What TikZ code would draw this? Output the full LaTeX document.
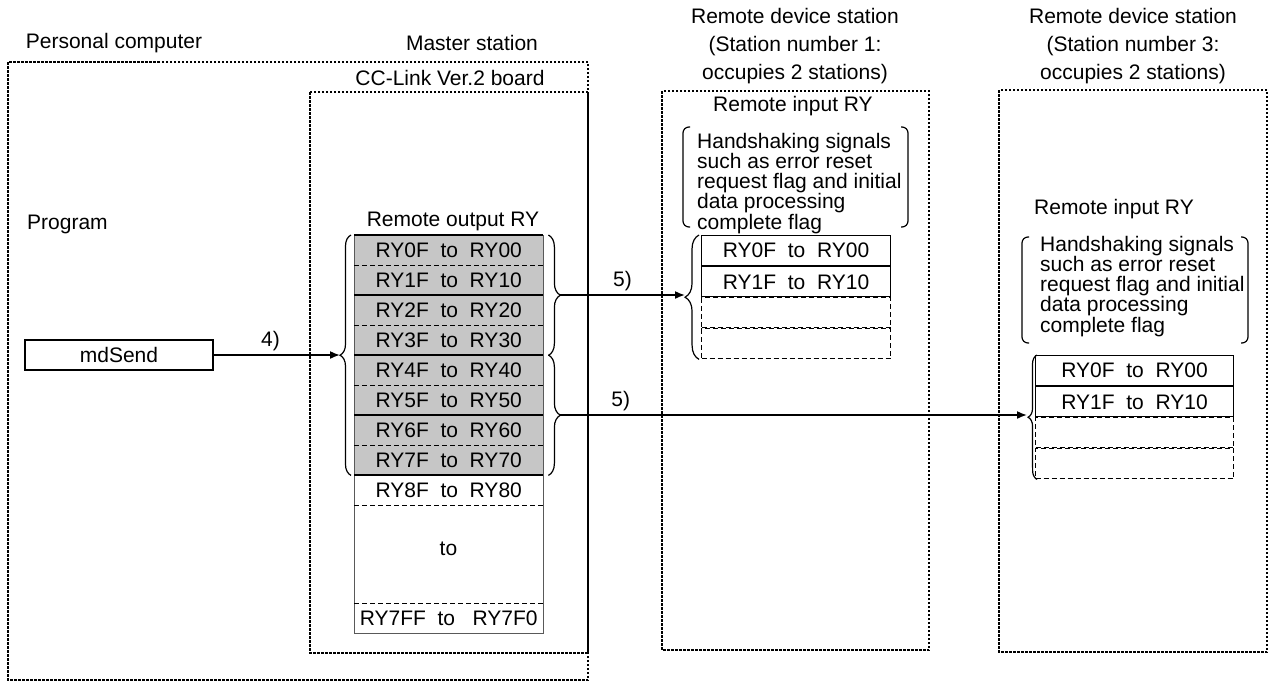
\documentclass[tikz,border=0pt]{standalone}
\usepackage{fontspec}
\setmainfont{Liberation Sans}
\usetikzlibrary{positioning,decorations.pathreplacing,arrows.meta}

\begin{document}
\begin{tikzpicture}[
    x=1pt, y=-1pt,
    >={Latex[length=10pt,width=8pt]},
    font=\fontsize{21}{19.3}\selectfont,
    frame/.style={draw, line width=2pt, dash pattern=on 2.5pt off 1.5pt},
    title/.style={align=center, anchor=north, inner sep=0pt, font=\fontsize{21}{28}\selectfont},
    cell/.style={minimum width=189pt, minimum height=30pt, inner sep=0pt, anchor=north west},
    stcell/.style={cell, draw, line width=1.2pt},
    emptycell/.style={cell, draw, line width=1pt, dash pattern=on 5pt off 3pt},
    rowline/.style={line width=1.8pt},
    rowdash/.style={line width=1pt, dash pattern=on 5pt off 3pt},
    tableside/.style={line width=1pt, black!65},
    brc/.style={decorate, decoration={brace, amplitude=#1}, line width=1.2pt},
    paren/.style={rounded corners=6pt, line width=1.2pt},
    hstext/.style={align=left, anchor=north west, inner sep=0pt},
    flow/.style={->, line width=1.6pt}
    ]

    \useasboundingbox (0,0) rectangle (1270,683);

    \draw[frame] (8,62) rectangle (588,680);
    \draw[frame] (310,92) rectangle (588,653);
    \draw[frame] (662,91) rectangle (929,650);
    \draw[frame] (999,90) rectangle (1267,652);

    \node (pc) at (114,43) {Personal computer};
    \node (master) at (472,43) {Master station};
    \node (board) at (450,78) {CC-Link Ver.2 board};
    \node[title] (st1) at (795,8) {Remote device station\\(Station number 1:\\occupies 2 stations)};
    \node[title] (st3) at (1133,8) {Remote device station\\(Station number 3:\\occupies 2 stations)};

    \node[anchor=west, inner sep=0pt] (prog) at (27,224) {Program};
    \node[draw, line width=1.2pt, minimum width=188pt, minimum height=30pt, inner sep=0pt] (send) at (119,355) {mdSend};

    \node (mout) at (453,221) {Remote output RY};
    \foreach \i in {0,...,7}
        \node[cell, fill=gray!45] (m\i) at (354,235+30*\i) {RY\i F\ \ to\ \ RY\i 0};
    \node[cell] (m8) at (354,475) {RY8F\ \ to\ \ RY80};
    \node[cell, minimum height=98pt] (mto) at (354,505) {};
    \node (to) at (448.5,549) {to};
    \node[cell] (mend) at (354,603) {RY7FF\ \ to\ \ \ RY7F0};

    \draw[tableside] (m0.north west) -- (mend.south west) -- (mend.south east) -- (m0.north east);
    \foreach \i in {0,2,4,6,8} {
        \draw[rowline] (m\i.north west) -- (m\i.north east);
        \draw[rowdash] (m\i.south west) -- (m\i.south east);
    }
    \draw[rowdash] (mend.north west) -- (mend.north east);

    \draw[brc=11pt] ([xshift=-3pt]m7.south west) -- ([xshift=-3pt]m0.north west);
    \draw[brc=12pt] ([xshift=5pt]m0.north east) -- ([xshift=5pt]m3.south east);
    \draw[brc=12pt] ([xshift=5pt]m4.north east) -- ([xshift=5pt]m7.south east);
    \coordinate (min) at (340,355);
    \coordinate (moutA) at (560,295);
    \coordinate (moutB) at (560,415);

    \node (in1) at (793,106) {Remote input RY};
    \node[hstext] (hs1) at (697,133) {Handshaking signals\\such as error reset\\request flag and initial\\data processing\\complete flag};
    \draw[paren] (690,127) -- (683,127) -- (683,227) -- (690,227);
    \draw[paren] (901,127) -- (908,127) -- (908,227) -- (901,227);
    \node[stcell] (s1a) at (701,235) {RY0F\ \ to\ \ RY00};
    \node[stcell, below=0pt of s1a] (s1b) {RY1F\ \ to\ \ RY10};
    \node[emptycell, below=0pt of s1b] (s1c) {};
    \node[emptycell, below=0pt of s1c] (s1d) {};
    \draw[brc=14pt] ([xshift=-2pt]s1d.south west) -- ([xshift=-2pt]s1a.north west);
    \coordinate (s1in) at (685,295);

    \node (in3) at (1114,209) {Remote input RY};
    \node[hstext] (hs3) at (1040,236) {Handshaking signals\\such as error reset\\request flag and initial\\data processing\\complete flag};
    \draw[paren] (1029,237) -- (1022,237) -- (1022,343) -- (1029,343);
    \draw[paren] (1241,237) -- (1248,237) -- (1248,343) -- (1241,343);
    \node[stcell, minimum width=198pt] (s3a) at (1035,355) {RY0F\ \ to\ \ RY00};
    \node[stcell, minimum width=198pt, below=0pt of s3a] (s3b) {RY1F\ \ to\ \ RY10};
    \node[emptycell, minimum width=198pt, below=0pt of s3b] (s3c) {};
    \node[emptycell, minimum width=198pt, below=0pt of s3c] (s3d) {};
    \draw[brc=9pt] ([xshift=2pt]s3d.south west) -- ([xshift=2pt]s3a.north west);
    \coordinate (s3in) at (1027,415);

    \draw[flow] (send.east) -- node[above, pos=0.45] {4)} (min);
    \draw[flow] (moutA) -- node[above] {5)} (s1in);
    \draw[flow] (moutB) -- node[above, pos=0.13] {5)} (s3in);
\end{tikzpicture}
\end{document}
